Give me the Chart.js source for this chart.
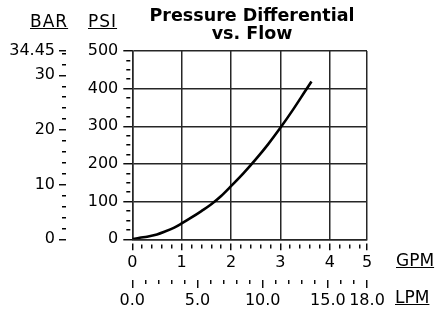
<!DOCTYPE html>
<html>
<head>
<meta charset="utf-8">
<script src="https://cdn.jsdelivr.net/npm/chart.js@4/dist/chart.umd.min.js"></script>
<style>
html,body{margin:0;padding:0;background:#fff;}
#wrap{position:relative;width:437px;height:316px;overflow:hidden;}
#c{position:absolute;left:0;top:0;}
.unit{position:absolute;font-family:"DejaVu Sans",sans-serif;font-size:17px;line-height:16px;text-decoration:underline;color:#000;white-space:nowrap;}
#title{position:absolute;left:102px;width:300px;top:6px;text-align:center;font-family:"DejaVu Sans",sans-serif;font-weight:bold;font-size:17.5px;line-height:18px;color:#000;}
</style>
</head>
<body>
<div id="wrap">
  <canvas id="c" width="437" height="316"></canvas>
  <div id="title">Pressure Differential<br>vs. Flow</div>
  <div class="unit" style="left:30px;top:13px;letter-spacing:1px;">BAR</div>
  <div class="unit" style="left:88px;top:13px;letter-spacing:1px;">PSI</div>
  <div class="unit" style="left:396px;top:252px;">GPM</div>
  <div class="unit" style="left:395px;top:289px;">LPM</div>
</div>
<script>
// ---- data ----
const flowGpm = [0, 0.15, 0.3, 0.5, 0.65, 0.85, 1.0, 1.2, 1.4, 1.6, 1.8, 2.0, 2.25, 2.5, 2.75, 3.0, 3.25, 3.5, 3.63];
const dropPsi = [0, 4, 7, 13, 20, 31, 42, 58, 75, 93, 115, 141, 175, 212, 252, 296, 343, 393, 419];

// ---- axes: major tick values and labels ----
const gpmMax = 4.755;              // = 18.0 LPM
const gpmMajor = [0, 1, 2, 3, 4, 4.755];
const gpmLabels = ['0', '1', '2', '3', '4', '5'];
const gpmMinorStep = 0.2;

const lpmMax = 18;
const lpmMajor = [0, 5, 10, 15, 18];
const lpmLabels = ['0.0', '5.0', '10.0', '15.0', '18.0'];
const lpmMinorStep = 1;

const psiMax = 500;
const psiMajor = [0, 100, 200, 300, 400, 500];
const psiLabels = ['0', '100', '200', '300', '400', '500'];
const psiMinorStep = 25;

const barMax = 34.45;
const barMajor = [0, 10, 20, 30, 34.45];
const barLabels = ['0', '10', '20', '30', '34.45'];
const barMinorStep = 2;

// ---- helpers ----
function buildTicks(major, step, max) {
  const vals = new Set(major.map(v => +v.toFixed(4)));
  for (let i = 0; i * step < max - 1e-6; i++) vals.add(+(i * step).toFixed(4));
  return [...vals].sort((a, b) => a - b).map(v => ({ value: v }));
}
function majorIndex(major, v) {
  return major.findIndex(m => Math.abs(m - v) < 1e-6);
}
const GRID = '#262626';
const FONT = { family: 'DejaVu Sans', size: 16, lineHeight: 1 };

function axis(opts) {
  const { major, labels, step, max, weight, size, tickLength, majorDash, minorDash, padding, onArea, border } = opts;
  return {
    type: 'linear',
    position: opts.position,
    min: 0,
    max: max,
    weight: weight,
    afterBuildTicks: a => { a.ticks = buildTicks(major, step, max); },
    afterFit: s => { if (opts.position === 'left') s.width = size; else s.height = size; },
    grid: {
      drawOnChartArea: onArea,
      color: c => (c.tick && majorIndex(major, c.tick.value) >= 0) ? GRID : 'rgba(0,0,0,0)',
      lineWidth: 1.5,
      tickColor: '#000',
      tickWidth: 1.4,
      tickLength: tickLength,
      tickBorderDash: c => (c.tick && majorIndex(major, c.tick.value) >= 0) ? majorDash : minorDash
    },
    border: { display: border, color: GRID, width: 1.5 },
    ticks: {
      autoSkip: false,
      maxRotation: 0,
      minRotation: 0,
      padding: padding,
      color: '#000',
      font: FONT,
      callback: v => { const i = majorIndex(major, v); return i >= 0 ? labels[i] : ''; }
    }
  };
}

new Chart(document.getElementById('c'), {
  type: 'scatter',
  data: {
    datasets: [{
      data: flowGpm.map((q, i) => ({ x: q, y: dropPsi[i] })),
      showLine: true,
      borderColor: '#000',
      borderWidth: 2.6,
      pointRadius: 0,
      cubicInterpolationMode: 'monotone',
      xAxisID: 'x',
      yAxisID: 'y'
    }]
  },
  options: {
    responsive: false,
    animation: false,
    devicePixelRatio: 1,
    layout: { padding: { left: 0, top: 51, right: 70, bottom: 0 } },
    plugins: { legend: { display: false }, title: { display: false }, tooltip: { enabled: false } },
    scales: {
      x: axis({ position: 'bottom', major: gpmMajor, labels: gpmLabels, step: gpmMinorStep, max: gpmMax, weight: 0,
                size: 40.7, tickLength: 11, majorDash: [0, 3, 8, 100], minorDash: [0, 4, 4, 100], padding: 5, onArea: true, border: true }),
      lpm: axis({ position: 'bottom', major: lpmMajor, labels: lpmLabels, step: lpmMinorStep, max: lpmMax, weight: 1,
                size: 36, tickLength: 8, majorDash: [8, 100], minorDash: [4, 100], padding: 5, onArea: false, border: false }),
      y: axis({ position: 'left', major: psiMajor, labels: psiLabels, step: psiMinorStep, max: psiMax, weight: 0,
                size: 66.3, tickLength: 9, majorDash: [9, 100], minorDash: [0, 3, 4, 100], padding: 5, onArea: true, border: true }),
      bar: axis({ position: 'left', major: barMajor, labels: barLabels, step: barMinorStep, max: barMax, weight: 1,
                size: 66, tickLength: 7, majorDash: [7, 100], minorDash: [0, 3, 4, 100], padding: 4, onArea: false, border: false })
    }
  }
});
</script>
</body>
</html>
